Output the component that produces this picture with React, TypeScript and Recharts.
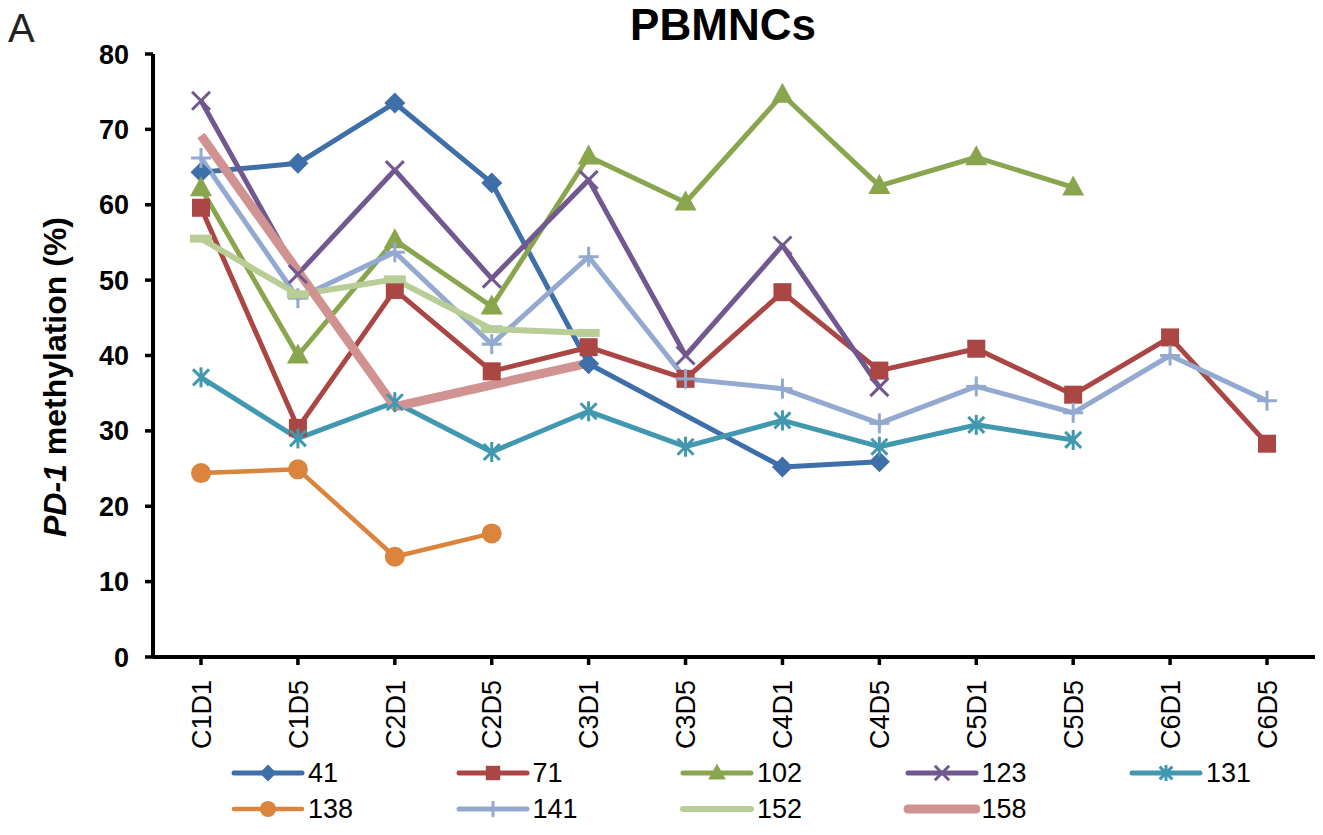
import React from 'react';
import { LineChart, Line, XAxis, YAxis, Legend } from 'recharts';

const categories = ['C1D1', 'C1D5', 'C2D1', 'C2D5', 'C3D1', 'C3D5', 'C4D1', 'C4D5', 'C5D1', 'C5D5', 'C6D1', 'C6D5'];

const p41 = [64.3, 65.5, 73.5, 62.9, 38.9, null, 25.2, 25.9, null, null, null, null];
const p71 = [59.6, 30.4, 48.7, 37.9, 41.1, 36.9, 48.4, 38.0, 40.9, 34.8, 42.4, 28.3];
const p102 = [62.2, 40.0, 55.3, 46.5, 66.4, 60.3, 74.6, 62.5, 66.3, 62.3, null, null];
const p123 = [73.8, 50.8, 64.6, 50.2, 63.3, 40.0, 54.6, 35.8, null, null, null, null];
const p131 = [37.1, 29.0, 33.8, 27.2, 32.6, 27.9, 31.4, 27.9, 30.8, 28.8, null, null];
const p138 = [24.4, 24.9, 13.3, 16.4, null, null, null, null, null, null, null, null];
const p141 = [66.2, 47.6, 53.7, 41.5, 53.1, 36.9, 35.6, 31.0, 35.9, 32.4, 40.0, 34.0];
const p152 = [55.5, 48.1, 50.1, 43.5, 43.0, null, null, null, null, null, null, null];
const p158 = [69.2, null, 33.2, null, 39.0, null, null, null, null, null, null, null];

const yTicks = [0, 10, 20, 30, 40, 50, 60, 70, 80];

const FONT = "Arial, 'Liberation Sans', Helvetica, sans-serif";

type MarkerType = 'diamond' | 'square' | 'triangle' | 'x' | 'asterisk' | 'circle' | 'plus' | 'dash' | 'none';

const series: { name: string; values: (number | null)[]; color: string; width: number; marker: MarkerType }[] = [
  { name: '41', values: p41, color: '#3E6FA8', width: 5, marker: 'diamond' },
  { name: '71', values: p71, color: '#AA4643', width: 5, marker: 'square' },
  { name: '102', values: p102, color: '#89A54E', width: 5, marker: 'triangle' },
  { name: '123', values: p123, color: '#71588F', width: 5, marker: 'x' },
  { name: '131', values: p131, color: '#4198AF', width: 5, marker: 'asterisk' },
  { name: '138', values: p138, color: '#DB843D', width: 4.5, marker: 'circle' },
  { name: '141', values: p141, color: '#93A9CF', width: 5, marker: 'plus' },
  { name: '152', values: p152, color: '#B9CD96', width: 6, marker: 'dash' },
  { name: '158', values: p158, color: '#D19392', width: 9, marker: 'none' },
];

const data = categories.map((cat, i) => {
  const row: Record<string, any> = { cat };
  series.forEach((s) => {
    row[s.name] = s.values[i];
  });
  return row;
});

const Marker = ({ type, cx, cy, color, k = 1 }: { type: MarkerType; cx: number; cy: number; color: string; k?: number }) => {
  const r = 10.5 * k;
  switch (type) {
    case 'diamond':
      return <polygon points={`${cx},${cy - r} ${cx + r},${cy} ${cx},${cy + r} ${cx - r},${cy}`} fill={color} />;
    case 'square':
      return <rect x={cx - 9 * k} y={cy - 9 * k} width={18 * k} height={18 * k} fill={color} />;
    case 'triangle':
      return <polygon points={`${cx},${cy - 12 * k} ${cx + 11 * k},${cy + 8 * k} ${cx - 11 * k},${cy + 8 * k}`} fill={color} />;
    case 'x':
      return (
        <g stroke={color} strokeWidth={3}>
          <line x1={cx - 9 * k} y1={cy - 9 * k} x2={cx + 9 * k} y2={cy + 9 * k} />
          <line x1={cx - 9 * k} y1={cy + 9 * k} x2={cx + 9 * k} y2={cy - 9 * k} />
        </g>
      );
    case 'asterisk':
      return (
        <g stroke={color} strokeWidth={3}>
          <line x1={cx - 8 * k} y1={cy - 8 * k} x2={cx + 8 * k} y2={cy + 8 * k} />
          <line x1={cx - 8 * k} y1={cy + 8 * k} x2={cx + 8 * k} y2={cy - 8 * k} />
          <line x1={cx} y1={cy - 10 * k} x2={cx} y2={cy + 10 * k} />
        </g>
      );
    case 'circle':
      return <circle cx={cx} cy={cy} r={10 * k} fill={color} />;
    case 'plus':
      return (
        <g stroke={color} strokeWidth={3}>
          <line x1={cx - 10 * k} y1={cy} x2={cx + 10 * k} y2={cy} />
          <line x1={cx} y1={cy - 10 * k} x2={cx} y2={cy + 10 * k} />
        </g>
      );
    case 'dash':
      return <rect x={cx - 11 * k} y={cy - 4 * k} width={22 * k} height={8 * k} fill={color} />;
    default:
      return null;
  }
};

const makeDot = (type: MarkerType, color: string) => (props: any) => {
  const { cx, cy, value, index } = props;
  if (value == null || cx == null || cy == null) return <g key={`e-${index}`} />;
  return (
    <g key={`d-${index}`}>
      <Marker type={type} cx={cx} cy={cy} color={color} />
    </g>
  );
};

const XTick = (props: any) => {
  const { x, y, payload } = props;
  const ty = y + 13;
  return (
    <text
      x={x}
      y={ty}
      transform={`rotate(-90, ${x}, ${ty})`}
      textAnchor="end"
      dy="0.36em"
      fontFamily={FONT}
      fontSize={27}
      fill="#000"
    >
      {payload.value}
    </text>
  );
};

const YLabel = () => (
  <text
    x={58}
    y={369}
    transform="rotate(-90, 58, 369)"
    textAnchor="middle"
    fontFamily={FONT}
    fontWeight="bold"
    fontSize={32}
    fill="#000"
  >
    <tspan fontStyle="italic">PD-1</tspan>
    <tspan> methylation (%)</tspan>
  </text>
);

const renderLegend = () => (
  <div style={{ position: 'relative', height: 72, fontFamily: FONT, fontSize: 27, color: '#000' }}>
    {series.map((s, i) => {
      const col = i % 5;
      const row = Math.floor(i / 5);
      return (
        <div
          key={s.name}
          style={{
            position: 'absolute',
            left: 220 + col * 224.5,
            top: row * 36,
            height: 36,
            display: 'flex',
            alignItems: 'center',
          }}
        >
          <svg width={78} height={26}>
            <line x1={6} x2={74} y1={13} y2={13} stroke={s.color} strokeWidth={s.width} strokeLinecap="round" />
            {s.marker !== 'dash' && <Marker type={s.marker} cx={40} cy={13} color={s.color} k={0.8} />}
          </svg>
          <span style={{ marginLeft: 2, lineHeight: 1 }}>{s.name}</span>
        </div>
      );
    })}
  </div>
);

export default function App() {
  return (
    <div style={{ position: 'relative', width: 1315, height: 827, background: '#fff' }}>
      <div style={{ position: 'absolute', left: 0, top: 0, fontFamily: FONT, fontSize: 40, lineHeight: 1, color: '#222' }}>A</div>
      <div
        style={{
          position: 'absolute',
          left: 715,
          top: -5,
          transform: 'translateX(-50%)',
          fontFamily: FONT,
          fontSize: 44,
          fontWeight: 'bold',
          lineHeight: 1,
          color: '#000',
          whiteSpace: 'nowrap',
        }}
      >
        PBMNCs
      </div>
      <LineChart width={1315} height={827} data={data} margin={{ top: 46, right: 8, left: 0, bottom: 8 }}>
        <XAxis
          dataKey="cat"
          padding={{ left: 48, right: 48 }}
          height={98}
          axisLine={{ stroke: '#000', strokeWidth: 4 }}
          tickLine={{ stroke: '#000', strokeWidth: 3.5 }}
          tickSize={8}
          tick={<XTick />}
          interval={0}
        />
        <XAxis
          xAxisId="top"
          dataKey="cat"
          orientation="top"
          height={0}
          padding={{ left: 48, right: 48 }}
          tick={false}
          tickLine={false}
          axisLine={{ stroke: '#000', strokeWidth: 4 }}
        />
        <YAxis
          domain={[0, 80]}
          ticks={yTicks}
          width={145}
          axisLine={{ stroke: '#000', strokeWidth: 4 }}
          tickLine={{ stroke: '#000', strokeWidth: 3.5 }}
          tickSize={8}
          tickMargin={16}
          tick={{ fontFamily: FONT, fontSize: 27, fontWeight: 'bold', fill: '#000' }}
          label={{ content: YLabel }}
        />
        <YAxis
          yAxisId="right"
          orientation="right"
          domain={[0, 80]}
          width={0}
          tick={false}
          tickLine={false}
          axisLine={{ stroke: '#000', strokeWidth: 4 }}
        />
        {series.map((s) => (
          <Line
            key={s.name}
            type="linear"
            dataKey={s.name}
            name={s.name}
            stroke={s.color}
            strokeWidth={s.width}
            strokeLinejoin="round"
            connectNulls
            dot={s.marker === 'none' ? false : makeDot(s.marker, s.color)}
            activeDot={false}
            isAnimationActive={false}
          />
        ))}
        <Legend verticalAlign="bottom" align="left" content={renderLegend} wrapperStyle={{ left: 0, width: 1315, height: 72 }} />
      </LineChart>
    </div>
  );
}
